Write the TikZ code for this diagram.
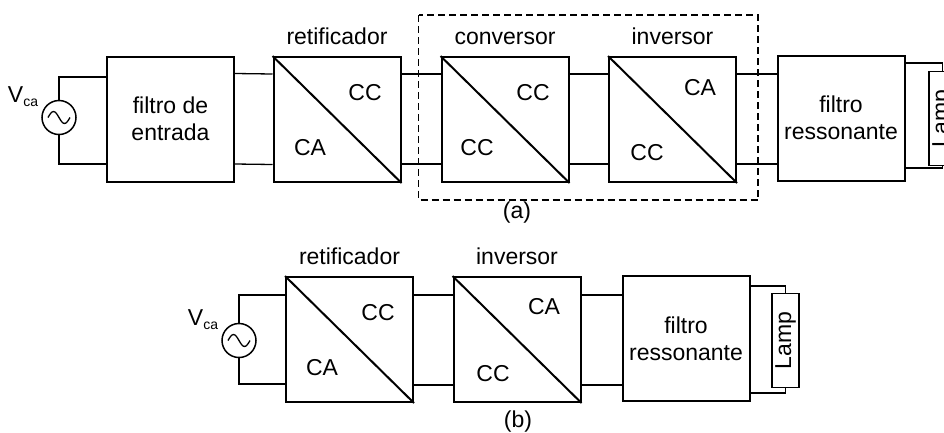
\documentclass[tikz,border=0pt]{standalone}
\usepackage{fontspec}
\setmainfont{Liberation Sans}
\usetikzlibrary{positioning}

\begin{document}
\begin{tikzpicture}[
        x=1pt, y=-1pt,
        font=\fontsize{23}{27}\selectfont,
        blk/.style={rectangle, draw, line width=2pt, minimum width=127pt,
                    minimum height=125pt, align=center, inner sep=0pt},
        diag/.style={line width=2pt},
        wire/.style={line width=1.3pt},
        src/.style={circle, draw, line width=1.5pt, minimum size=34pt, inner sep=0pt},
        lamp/.style={rectangle, draw, line width=1.5pt, rotate=90,
                     minimum width=94pt, minimum height=27pt, inner sep=0pt},
        lbl/.style={inner sep=0pt},
        grp/.style={dash pattern=on 7pt off 4pt, line width=1.6pt}
      ]
        \useasboundingbox (0,0) rectangle (944,432);

        % (a)
        \node[src] (src1) at (59,117.5) {};
        \node[lbl, anchor=base east] (vca1) at ([shift={(-3pt,15pt)}]src1.west) {V\raisebox{-4pt}{\fontsize{14}{16}\selectfont ca}};
        \node[blk] (filt1) at (170.5,119) {filtro de\\entrada};
        \node[blk] (ret1)  at (337,119.5) {};
        \node[blk] (conv1) at (505,119.5) {};
        \node[blk] (inv1)  at (672.5,119.5) {};
        \node[blk] (res1)  at (841,118) {filtro\\ressonante};
        \node[lamp] (lamp1) at (942.5,118.5) {Lamp};

        \node[lbl, above=11pt of ret1]  (ret1lbl)  {retificador};
        \node[lbl, above=11pt of conv1] (conv1lbl) {conversor};
        \node[lbl, above=11pt of inv1]  (inv1lbl)  {inversor};

        \draw[diag] (ret1.north west)  -- (ret1.south east);
        \draw[diag] (conv1.north west) -- (conv1.south east);
        \draw[diag] (inv1.north west)  -- (inv1.south east);

        \node[lbl] at ([shift={(28,-26.5)}]ret1.center)  {CC};
        \node[lbl] at ([shift={(-27,28.5)}]ret1.center)  {CA};
        \node[lbl] at ([shift={(28,-26.5)}]conv1.center) {CC};
        \node[lbl] at ([shift={(-28,28.5)}]conv1.center) {CC};
        \node[lbl] at ([shift={(27.5,-31.5)}]inv1.center) {CA};
        \node[lbl] at ([shift={(-25.5,33.5)}]inv1.center) {CC};

        \draw[grp] ([shift={(-22pt,41pt)}]conv1.north west) rectangle ([shift={(21pt,-17pt)}]inv1.south east);
        \node[lbl] (capa) at (517,213) {(a)};

        \draw[wire] (src1.north) |- ([yshift=42pt]filt1.west);
        \draw[wire] (src1.south) |- ([yshift=-45pt]filt1.west);
        \draw[wire] ([yshift=45.5pt]filt1.east) -- ([yshift=45.5pt]ret1.west);
        \draw[wire] ([yshift=-45pt]filt1.east) -- ([yshift=-45pt]ret1.west);
        \draw[wire] ([yshift=45.5pt]ret1.east) -- ([yshift=45.5pt]conv1.west);
        \draw[wire] ([yshift=-44.5pt]ret1.east) -- ([yshift=-44.5pt]conv1.west);
        \draw[wire] ([yshift=45.5pt]conv1.east) -- ([yshift=45.5pt]inv1.west);
        \draw[wire] ([yshift=-44.5pt]conv1.east) -- ([yshift=-44.5pt]inv1.west);
        \draw[wire] ([yshift=45.5pt]inv1.east) -- ([yshift=44pt]res1.west);
        \draw[wire] ([yshift=-44.5pt]inv1.east) -- ([yshift=-46pt]res1.west);
        \draw[wire] ([yshift=55pt]res1.east) -| (lamp1.east);
        \draw[wire] ([yshift=-50pt]res1.east) -| (lamp1.west);

        % (b)
        \node[src] (src2) at (239,340.5) {};
        \node[lbl, anchor=base east] (vca2) at ([shift={(-3pt,15pt)}]src2.west) {V\raisebox{-4pt}{\fontsize{14}{16}\selectfont ca}};
        \node[blk] (ret2) at (349.5,339.5) {};
        \node[blk] (inv2) at (517,339.5) {};
        \node[blk] (res2) at (686,338.5) {filtro\\ressonante};
        \node[lamp] (lamp2) at (785.5,340.5) {Lamp};

        \node[lbl, above=11pt of ret2] (ret2lbl) {retificador};
        \node[lbl, above=11pt of inv2] (inv2lbl) {inversor};

        \draw[diag] (ret2.north west) -- (ret2.south east);
        \draw[diag] (inv2.north west) -- (inv2.south east);

        \node[lbl] at ([shift={(28.5,-26.5)}]ret2.center) {CC};
        \node[lbl] at ([shift={(-27.5,28.5)}]ret2.center) {CA};
        \node[lbl] at ([shift={(27,-32.5)}]inv2.center)   {CA};
        \node[lbl] at ([shift={(-24,34.5)}]inv2.center)   {CC};

        \node[lbl] (capb) at (518,422) {(b)};

        \draw[wire] (src2.north) |- ([yshift=44.5pt]ret2.west);
        \draw[wire] (src2.south) |- ([yshift=-44.5pt]ret2.west);
        \draw[wire] ([yshift=44.5pt]ret2.east) -- ([yshift=44.5pt]inv2.west);
        \draw[wire] ([yshift=-45.5pt]ret2.east) -- ([yshift=-45.5pt]inv2.west);
        \draw[wire] ([yshift=44.5pt]inv2.east) -- ([yshift=43.5pt]res2.west);
        \draw[wire] ([yshift=-45.5pt]inv2.east) -- ([yshift=-46.5pt]res2.west);
        \draw[wire] ([yshift=52.5pt]res2.east) -| (lamp2.east);
        \draw[wire] ([yshift=-54.5pt]res2.east) -| (lamp2.west);

        % sine marks in the sources
        \draw[wire] ([xshift=-11pt]src1.center) sin ([shift={(-5.5,-6)}]src1.center) cos (src1.center)
                    sin ([shift={(5.5,6)}]src1.center) cos ([xshift=11pt]src1.center);
        \draw[wire] ([xshift=-11pt]src2.center) sin ([shift={(-5.5,-6)}]src2.center) cos (src2.center)
                    sin ([shift={(5.5,6)}]src2.center) cos ([xshift=11pt]src2.center);
      \end{tikzpicture}
\end{document}
